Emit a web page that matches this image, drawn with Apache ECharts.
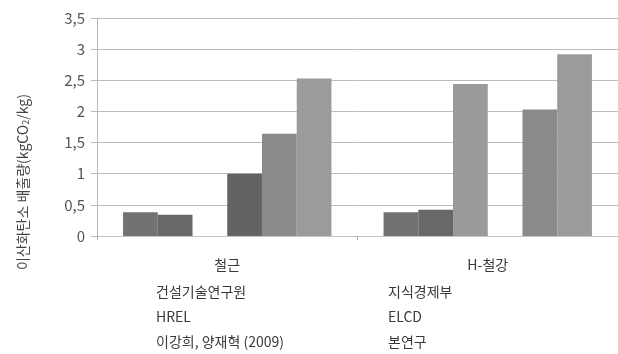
<!DOCTYPE html>
<html>
<head>
<meta charset="utf-8">
<script src="https://cdn.jsdelivr.net/npm/echarts@6/dist/echarts.min.js"></script>
<style>
  html, body { margin: 0; padding: 0; background: #fff; }
  #chart { width: 618px; height: 354px; }
</style>
</head>
<body>
<div id="chart"></div>
<script>
// Materials on the x axis
const categories = ['철근', 'H-철강'];

// CO2 emission factors (kgCO2/kg) by data source
const seriesNames = ['건설기술연구원', '지식경제부', 'HREL', 'ELCD', '이강희, 양재혁 (2009)', '본연구'];
const kictValues  = [0.38, 0.38];
const mkeValues   = [0.34, 0.42];
const hrelValues  = [null, 2.44];
const elcdValues  = [1.00, null];
const leeValues   = [1.64, 2.03];
const studyValues = [2.53, 2.92];

// Y axis ticks
const yMin = 0, yMax = 3.5, yStep = 0.5;

const seriesValues = [kictValues, mkeValues, hrelValues, elcdValues, leeValues, studyValues];
const barColors = ['#727272', '#686868', '#9a9a9a', '#636363', '#8a8a8a', '#9b9b9b'];

const FONT = '"Noto Sans CJK KR", "Noto Sans", sans-serif';

const chart = echarts.init(document.getElementById('chart'), null, { renderer: 'canvas' });

// Text-only legend laid out in two columns, three rows each
const legendBase = {
  orient: 'vertical',
  icon: 'rect',
  itemWidth: 0,
  itemHeight: 0,
  itemGap: 7,
  padding: 0,
  top: 283,
  height: 80,
  selectedMode: false,
  textStyle: { fontFamily: FONT, fontSize: 14, color: '#3a3a3a', lineHeight: 18 }
};

chart.setOption({
  animation: false,
  textStyle: { fontFamily: FONT },
  grid: { left: 97, right: 0, top: 18, bottom: 118, containLabel: false },
  legend: [
    Object.assign({}, legendBase, { left: 151, data: [seriesNames[0], seriesNames[2], seriesNames[4]] }),
    Object.assign({}, legendBase, { left: 383, data: [seriesNames[1], seriesNames[3], seriesNames[5]] })
  ],
  xAxis: {
    type: 'category',
    data: categories,
    axisLine: { show: true, lineStyle: { color: '#c4c4c4', width: 1 } },
    axisTick: { show: true, alignWithLabel: false, length: 4, lineStyle: { color: '#b0b0b0' } },
    axisLabel: { fontFamily: FONT, fontSize: 14, color: '#3a3a3a', margin: 22 }
  },
  yAxis: {
    type: 'value',
    min: yMin,
    max: yMax,
    interval: yStep,
    axisLine: { show: true, lineStyle: { color: '#b8b8b8', width: 1 } },
    axisTick: { show: true, length: 6, lineStyle: { color: '#b8b8b8' } },
    axisLabel: {
      fontFamily: FONT, fontSize: 15, color: '#555', margin: 12,
      formatter: v => String(v).replace('.', ',')
    },
    splitLine: { show: true, lineStyle: { color: '#bcbcbc', width: 1 } }
  },
  graphic: [{
    type: 'text',
    x: 21,
    y: 182,
    rotation: Math.PI / 2,
    style: {
      text: '{m|이산화탄소 배출량(kgCO}{s|2}{m|/kg)}',
      align: 'center',
      verticalAlign: 'middle',
      fill: '#444',
      rich: {
        m: { fontFamily: FONT, fontSize: 14, fill: '#444', verticalAlign: 'bottom', lineHeight: 18 },
        s: { fontFamily: FONT, fontSize: 9, fill: '#444', verticalAlign: 'bottom', lineHeight: 14 }
      }
    }
  }],
  series: seriesNames.map((name, i) => ({
    name: name,
    type: 'bar',
    data: seriesValues[i],
    barGap: 0,
    barCategoryGap: '20%',
    itemStyle: { color: barColors[i] }
  }))
});
</script>
</body>
</html>
